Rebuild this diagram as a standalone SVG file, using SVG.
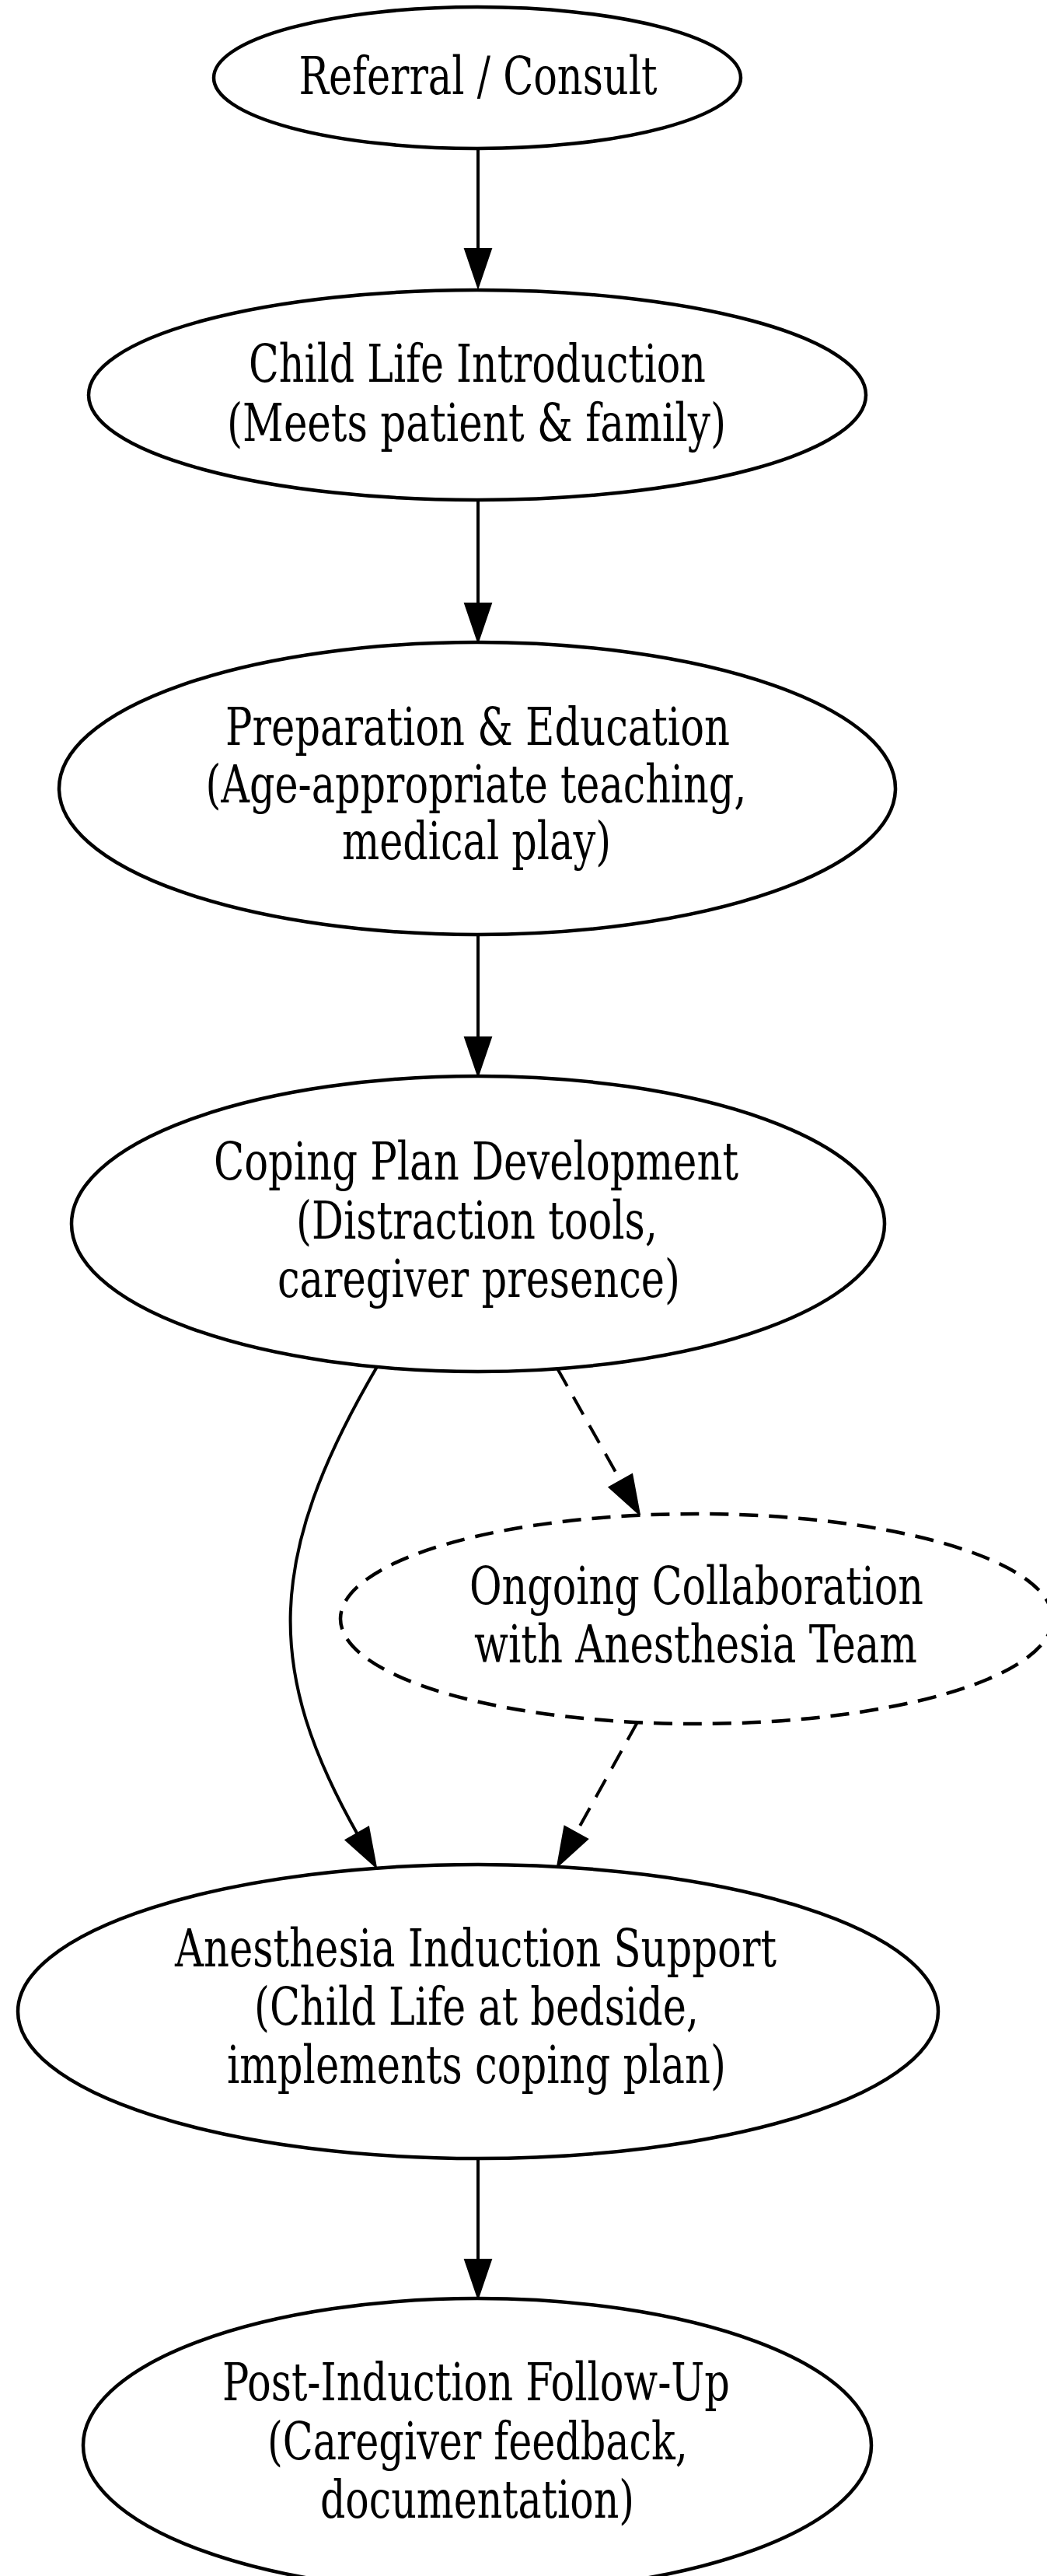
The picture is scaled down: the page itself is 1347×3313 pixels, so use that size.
<svg xmlns="http://www.w3.org/2000/svg" width="1347" height="3313" viewBox="0 0 1347 3313">
<style>
.node ellipse{fill:#ffffff;stroke:#000000;stroke-width:4.5}
.node.dashed ellipse{stroke-dasharray:24 14}
.node text{font-family:"DejaVu Serif Condensed","DejaVu Serif","Liberation Serif",serif;font-stretch:condensed;font-size:68px;fill:#000000;text-anchor:middle}
.edge{fill:none;stroke:#000000;stroke-width:4}
.edge.dashed{stroke-dasharray:26 16}
</style>
<defs>
<marker id="arrow" markerUnits="userSpaceOnUse" markerWidth="54" markerHeight="40" refX="0" refY="17" orient="auto" overflow="visible">
<path d="M0,0 L50,17 L0,34 Z" fill="#000000" stroke="#000000" stroke-width="2" stroke-dasharray="none"/>
</marker>
</defs>
<rect x="0" y="0" width="1347" height="3313" fill="#ffffff"/>
<g id="connectors">
<path class="edge" d="M615,192 L615,320" marker-end="url(#arrow)"/>
<path class="edge" d="M615,643 L615,776" marker-end="url(#arrow)"/>
<path class="edge" d="M615,1203 L615,1334" marker-end="url(#arrow)"/>
<path class="edge" d="M485,1758 C340,2005 342,2150 459.4,2358" marker-end="url(#arrow)"/>
<path class="edge dashed" d="M717,1760 L798.4,1904.4" marker-end="url(#arrow)"/>
<path class="edge dashed" d="M820,2215 L741.2,2357" marker-end="url(#arrow)"/>
<path class="edge" d="M615,2775 L615,2906" marker-end="url(#arrow)"/>
</g>
<g id="node-referral" class="node">
<ellipse cx="614" cy="100" rx="339" ry="91"/>
<text x="615" y="121" textLength="461" lengthAdjust="spacingAndGlyphs">Referral / Consult</text>
</g>
<g id="node-intro" class="node">
<ellipse cx="614" cy="508" rx="500" ry="135"/>
<text x="614" y="491" textLength="588" lengthAdjust="spacingAndGlyphs">Child Life Introduction</text>
<text x="613" y="567" textLength="642" lengthAdjust="spacingAndGlyphs">(Meets patient &amp; family)</text>
</g>
<g id="node-prep" class="node">
<ellipse cx="614" cy="1014" rx="538" ry="188"/>
<text x="614.5" y="958" textLength="649" lengthAdjust="spacingAndGlyphs">Preparation &amp; Education</text>
<text x="612.5" y="1032" textLength="696" lengthAdjust="spacingAndGlyphs">(Age-appropriate teaching,</text>
<text x="613" y="1105" textLength="346" lengthAdjust="spacingAndGlyphs">medical play)</text>
</g>
<g id="node-coping" class="node">
<ellipse cx="615" cy="1574" rx="523" ry="190"/>
<text x="612.5" y="1517" textLength="675" lengthAdjust="spacingAndGlyphs">Coping Plan Development</text>
<text x="613.5" y="1593" textLength="465" lengthAdjust="spacingAndGlyphs">(Distraction tools,</text>
<text x="616" y="1668" textLength="518" lengthAdjust="spacingAndGlyphs">caregiver presence)</text>
</g>
<g id="node-collab" class="node dashed">
<ellipse cx="896" cy="2082" rx="458" ry="135"/>
<text x="896" y="2063" textLength="584" lengthAdjust="spacingAndGlyphs">Ongoing Collaboration</text>
<text x="895" y="2138" textLength="570" lengthAdjust="spacingAndGlyphs">with Anesthesia Team</text>
</g>
<g id="node-induction" class="node">
<ellipse cx="615" cy="2587" rx="592" ry="189"/>
<text x="612" y="2529" textLength="774" lengthAdjust="spacingAndGlyphs">Anesthesia Induction Support</text>
<text x="613" y="2604" textLength="572" lengthAdjust="spacingAndGlyphs">(Child Life at bedside,</text>
<text x="613" y="2679" textLength="642" lengthAdjust="spacingAndGlyphs">implements coping plan)</text>
</g>
<g id="node-followup" class="node">
<ellipse cx="614" cy="3145" rx="507" ry="189"/>
<text x="612.5" y="3087" textLength="653" lengthAdjust="spacingAndGlyphs">Post-Induction Follow-Up</text>
<text x="614.5" y="3163" textLength="541" lengthAdjust="spacingAndGlyphs">(Caregiver feedback,</text>
<text x="614" y="3238" textLength="404" lengthAdjust="spacingAndGlyphs">documentation)</text>
</g>
</svg>
